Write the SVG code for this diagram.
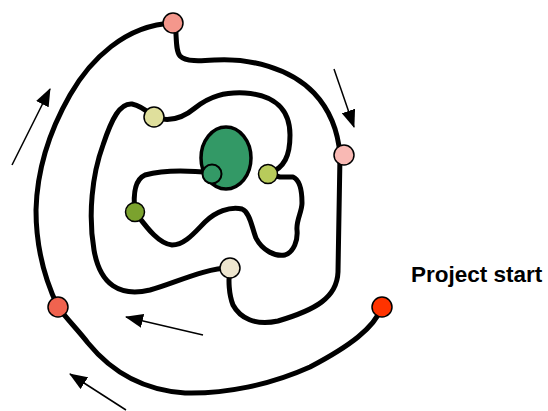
<svg xmlns="http://www.w3.org/2000/svg" width="548" height="411" viewBox="0 0 548 411">
  <style>
    .track { fill: none; stroke: #000; stroke-width: 5; stroke-linecap: round; stroke-linejoin: round; }
    .arrow { fill: none; stroke: #000; stroke-width: 1.5; marker-end: url(#head); }
    .milestone { stroke: #000; stroke-width: 1.5; }
    .label { font-family: "Liberation Sans", Arial, sans-serif; font-weight: bold; font-size: 22.5px; fill: #000; }
  </style>
  <defs>
    <marker id="head" markerUnits="userSpaceOnUse" markerWidth="18" markerHeight="14" refX="17" refY="7" orient="auto">
      <path d="M0,0 L18,7 L0,14 Z" fill="#000"/>
    </marker>
  </defs>
  <rect width="548" height="411" fill="#fff"/>

  <!-- spiral track and direction arrows -->
  <g id="connectors">
    <path class="track" d="M382,307 C374,328 350,346 310,367 C270,385 225,394 185,393 C140,390 110,370 88,343 C78,330 66,318 58,307"/>
    <path class="track" d="M58,307 C45,280 36,250 36,210 C37,170 50,130 70,95 C90,60 125,25 173,23"/>
    <path class="track" d="M175,23 C177,35 175,50 180,56 C186,62 200,61 215,60 C250,58 290,68 314,93 C330,110 338,130 340,155"/>
    <path class="track" d="M340,155 L338,272 C337,298 315,310 278,321 C255,326 240,318 233,305 C229,295 228,280 230,268"/>
    <path class="track" d="M230,268 C205,268 175,283 150,290 C120,297 100,285 94,250 C88,215 92,175 103,145 C112,118 120,103 132,104 C142,106 148,112 154,117"/>
    <path class="track" d="M154,117 C170,123 183,118 195,108 C210,96 225,92 245,93 C275,95 290,110 290,135 C290,155 285,168 268,174"/>
    <path class="track" d="M268,174 L280,177 L293,177 C300,180 302,192 302,203 C302,212 296,220 297,230 C298,240 294,252 285,255 C275,257 262,250 256,238 C252,228 250,212 242,209 C230,206 215,212 205,222 C195,232 185,245 172,245 C158,244 145,225 135,212"/>
    <path class="track" d="M135,212 C133,195 134,180 145,175 C160,171 185,170 212,173"/>

    <line class="arrow" x1="12" y1="165" x2="50" y2="89"/>
    <line class="arrow" x1="334" y1="69" x2="354" y2="127"/>
    <line class="arrow" x1="203" y1="335" x2="126" y2="317"/>
    <line class="arrow" x1="126" y1="410" x2="70" y2="374"/>
  </g>

  <!-- milestones along the track -->
  <g id="start">
    <circle class="milestone" cx="382" cy="307" r="10" fill="#FF3300"/>
    <text class="label" x="411" y="281.5">Project start</text>
  </g>
  <g id="milestone-1"><circle class="milestone" cx="58" cy="307" r="10" fill="#F0634F"/></g>
  <g id="milestone-2"><circle class="milestone" cx="173" cy="23" r="10" fill="#F4978C"/></g>
  <g id="milestone-3"><circle class="milestone" cx="344" cy="155" r="10" fill="#F9B9B4"/></g>
  <g id="milestone-4"><circle class="milestone" cx="230" cy="268" r="10" fill="#EEE6CF"/></g>
  <g id="milestone-5"><circle class="milestone" cx="154" cy="117" r="10" fill="#DFDF9C"/></g>
  <g id="milestone-6"><circle class="milestone" cx="268" cy="174" r="9.5" fill="#B8CB5B"/></g>
  <g id="milestone-7"><circle class="milestone" cx="135" cy="212" r="9.5" fill="#7BA22E"/></g>
  <g id="goal">
    <ellipse cx="226" cy="158" rx="25" ry="31" fill="#339966" stroke="#000" stroke-width="3.5"/>
    <circle cx="212" cy="174" r="9.5" fill="#339966" stroke="#000" stroke-width="2"/>
  </g>
</svg>
